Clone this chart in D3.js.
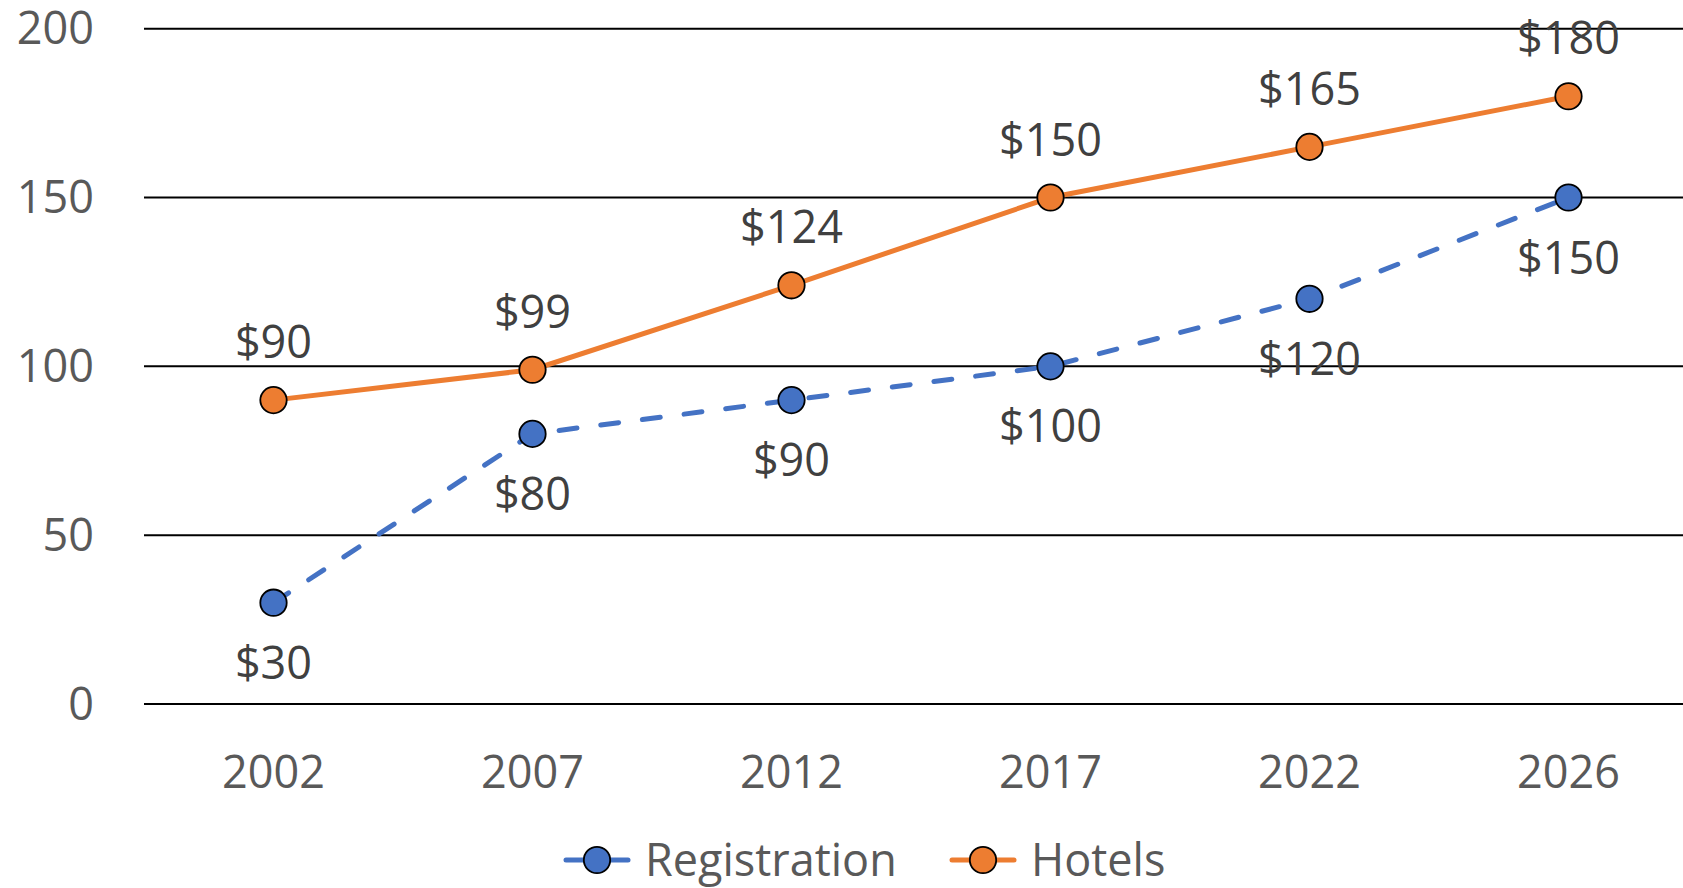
<!DOCTYPE html>
<html>
<head>
<meta charset="utf-8">
<script src="https://cdn.jsdelivr.net/npm/d3@7"></script>
<style>
  body { margin: 0; background: #fff; }
  svg { display: block; font-family: "Open Sans", sans-serif; }
</style>
</head>
<body>
<div id="chart"></div>
<script>
// data
let years = ["2002", "2007", "2012", "2017", "2022", "2026"];
let registration = [30, 80, 90, 100, 120, 150];
let hotels = [90, 99, 124, 150, 165, 180];
let yTicks = [0, 50, 100, 150, 200];
let seriesNames = ["Registration", "Hotels"];

let width = 1683;
let height = 888;

let blue = "#4472C4";
let orange = "#ED7D31";

let x = d3.scaleBand()
  .domain(years)
  .range([144, 144 + 6 * 259]);

let y = d3.scaleLinear()
  .domain([0, 200])
  .range([704, 28.7]);

let svg = d3.select("#chart").append("svg")
  .attr("width", width)
  .attr("height", height);

// gridlines
svg.append("g")
  .selectAll("line")
  .data(yTicks)
  .enter()
  .append("line")
  .attr("x1", 144)
  .attr("x2", width)
  .attr("y1", d => y(d))
  .attr("y2", d => y(d))
  .attr("stroke", "#000")
  .attr("stroke-width", 2);

// y axis labels
svg.append("g")
  .selectAll("text")
  .data(yTicks)
  .enter()
  .append("text")
  .attr("x", 94)
  .attr("y", d => y(d))
  .attr("dy", "0.35em")
  .attr("text-anchor", "end")
  .attr("font-size", 45)
  .attr("fill", "#595959")
  .text(d => d);

// x axis labels
svg.append("g")
  .selectAll("text")
  .data(years)
  .enter()
  .append("text")
  .attr("x", d => x(d) + x.bandwidth() / 2)
  .attr("y", 788)
  .attr("text-anchor", "middle")
  .attr("font-size", 45)
  .attr("fill", "#595959")
  .text(d => d);

let cx = (d, i) => x(years[i]) + x.bandwidth() / 2;

let line = d3.line()
  .x((d, i) => cx(d, i))
  .y(d => y(d));

let series = [
  { name: "Registration", values: registration, color: blue, dash: "18,24", below: true },
  { name: "Hotels", values: hotels, color: orange, dash: null, below: false }
];

series.forEach(s => {
  svg.append("path")
    .datum(s.values)
    .attr("d", line)
    .attr("fill", "none")
    .attr("stroke", s.color)
    .attr("stroke-width", 5)
    .attr("stroke-linecap", s.dash ? "round" : "butt")
    .attr("stroke-dasharray", s.dash);
});

series.forEach(s => {
  svg.append("g")
    .selectAll("circle")
    .data(s.values)
    .enter()
    .append("circle")
    .attr("cx", cx)
    .attr("cy", d => y(d))
    .attr("r", 13.2)
    .attr("fill", s.color)
    .attr("stroke", "#000")
    .attr("stroke-width", 1.8);
});

// data labels
series.forEach(s => {
  svg.append("g")
    .selectAll("text")
    .data(s.values)
    .enter()
    .append("text")
    .attr("x", cx)
    .attr("y", d => s.below ? y(d) + 76 : y(d) - 42)
    .attr("text-anchor", "middle")
    .attr("font-size", 45)
    .attr("fill", "#404040")
    .text(d => "$" + d);
});

// legend
let legendX = [566, 952];
let legend = svg.append("g");
series.forEach((s, i) => {
  let lx = legendX[i];
  let g = legend.append("g").attr("transform", "translate(" + lx + ",860)");
  g.append("line")
    .attr("x1", 0).attr("x2", 62)
    .attr("y1", 0).attr("y2", 0)
    .attr("stroke", s.color)
    .attr("stroke-width", 5)
    .attr("stroke-linecap", "round");
  g.append("circle")
    .attr("cx", 31).attr("cy", 0).attr("r", 13.2)
    .attr("fill", s.color)
    .attr("stroke", "#000")
    .attr("stroke-width", 1.8);
  g.append("text")
    .attr("x", 79)
    .attr("y", 0)
    .attr("dy", "0.35em")
    .attr("font-size", 45)
    .attr("fill", "#595959")
    .text(seriesNames[i]);
});
</script>
</body>
</html>
